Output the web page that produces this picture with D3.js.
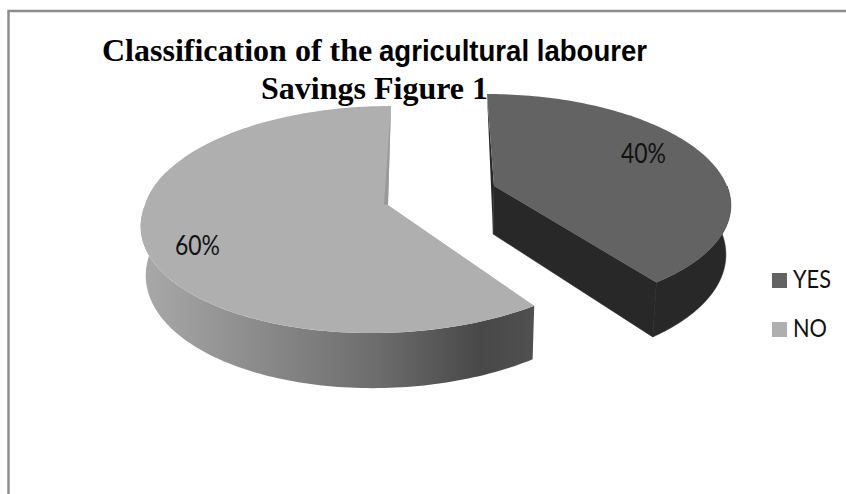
<!DOCTYPE html>
<html><head><meta charset="utf-8">
<script src="https://cdn.jsdelivr.net/npm/d3@7/dist/d3.min.js"></script>
<style>html,body{margin:0;padding:0;background:#fff}svg{display:block}</style>
</head><body><svg id="c" width="846" height="494"></svg>
<script>
const categories = ["YES", "NO"];
const seriesValues = [40, 60];
const valueLabels = ["40%", "60%"];
const titleSerif = "Classification of the";
const titleSans = "agricultural labourer";
const titleLine2 = "Savings Figure 1";

const W = 846, H = 494;
const svg = d3.select("#c");
const defs = svg.append("defs");

// frame
svg.append("path").attr("d", d3.line()([[8.5, H], [8.5, 11], [W, 11]]))
  .attr("fill", "none").attr("stroke", "#8c8c8c").attr("stroke-width", 2.4);

// gradient of the NO outer wall
const g = defs.append("linearGradient").attr("id", "wallNo").attr("gradientUnits", "userSpaceOnUse")
  .attr("x1", 145).attr("x2", 535).attr("y1", 0).attr("y2", 0);
[[0, "#a8a8a8"], [.3, "#8a8a8a"], [.6, "#6c6c6c"], [.86, "#484848"], [1, "#505050"]]
  .forEach(d => g.append("stop").attr("offset", d[0]).attr("stop-color", d[1]));

const depth = 48, vanishX = 440, shrink = 0.017;
const geom = {
  YES: {ax: 494, ay: 186, R: 233, Rk: 105.3, persp: 0.145, shearUp: 0.076, shearDown: 0.075, top: "#636363", wall: "#282828", from: Math.PI / 2, to: null},
  NO:  {ax: 388, ay: 205, R: 243, Rk: 111.7, persp: 0.128, shearUp: -0.03, shearDown: -0.13, top: "#afafaf", wall: "url(#wallNo)", from: null, to: Math.PI * 1.6}
};

function project(a, q, low) {
  const X = Math.sin(a), Y = Math.cos(a), s = 1 / (1 + q.persp * Y);
  const dx = q.R * X * s, dy = -q.Rk * Y * s;
  let x = q.ax + dx + (dy < 0 ? q.shearUp : q.shearDown) * dy, y = q.ay + dy;
  if (low) { x -= (x - vanishX) * shrink; y += depth * s; }
  return [x, y];
}
function apex(q, low) {
  return low ? [q.ax - (q.ax - vanishX) * shrink, q.ay + depth] : [q.ax, q.ay];
}
const samples = (a0, a1) => d3.range(0, 121).map(i => a0 + (a1 - a0) * i / 120);
const line = d3.line();

const pie = d3.pie().sort(null).value(d => d.v)(categories.map((c, i) => ({c, v: seriesValues[i], l: valueLabels[i]})));

[pie[1], pie[0]].forEach(p => {
  const name = p.data.c, q = geom[name], G = svg.append("g");
  const a0 = p.startAngle, a1 = p.endAngle;
  const wa0 = q.from === null ? a0 : q.from, wa1 = q.to === null ? a1 : q.to;
  const up = samples(wa0, wa1).map(a => project(a, q, false));
  const lo = samples(wa0, wa1).map(a => project(a, q, true)).reverse();
  if (name === "YES") {
    G.append("path").attr("fill", q.wall).attr("stroke", q.wall).attr("stroke-width", 0.6)
      .attr("d", line([project(a1, q, false), apex(q, false), apex(q, true), project(a1, q, true)]) + "Z");
    G.append("path").attr("fill", q.wall).attr("d", line([project(a0, q, false), apex(q, false), apex(q, true)]) + "Z");
  }
  const wall = G.append("path").attr("fill", q.wall).attr("d", line(up.concat(lo)) + "Z");
  if (name === "YES") wall.attr("stroke", q.wall).attr("stroke-width", 0.6);
  const rim = samples(a0, a1).map(a => project(a, q, false));
  G.append("path").attr("fill", q.top).attr("d", line(rim.concat([apex(q, false)])) + "Z");
  if (name === "NO") {
    const A = apex(q, false);
    G.append("path").attr("fill", "#999999").attr("d", line([project(a1, q, false), A, [A[0] - 4, A[1] - 1]]) + "Z");
  }
});

// value labels
const labelPos = {YES: [621, 163], NO: [175, 255]};
pie.forEach(p => {
  svg.append("text").attr("x", labelPos[p.data.c][0]).attr("y", labelPos[p.data.c][1])
    .attr("textLength", 45).attr("lengthAdjust", "spacingAndGlyphs")
    .attr("font-family", "Lato").attr("font-size", 26).attr("fill", "#111").text(p.data.l);
});

// legend
const legendY = d3.scalePoint().domain(categories).range([280.5, 329.5]);
const legendWidth = {YES: 38, NO: 34};
pie.forEach(p => {
  const y = legendY(p.data.c);
  svg.append("rect").attr("x", 772).attr("y", y - 7.5).attr("width", 15).attr("height", 15).attr("fill", geom[p.data.c].top);
  svg.append("text").attr("x", 793).attr("y", y + 7.5)
    .attr("textLength", legendWidth[p.data.c]).attr("lengthAdjust", "spacingAndGlyphs")
    .attr("font-family", "Lato").attr("font-size", 25.5).attr("fill", "#111").text(p.data.c);
});

// title
svg.append("text").attr("x", 102).attr("y", 61).attr("font-weight", "bold").attr("font-family", "'Liberation Serif'")
  .attr("font-size", 32).attr("fill", "#000").text(titleSerif);
svg.append("text").attr("x", 379).attr("y", 61).attr("font-weight", "bold").attr("font-family", "'Liberation Sans'")
  .attr("font-size", 29.5).attr("textLength", 268).attr("lengthAdjust", "spacingAndGlyphs").attr("fill", "#000").text(titleSans);
svg.append("text").attr("x", 261).attr("y", 99).attr("font-weight", "bold").attr("font-family", "'Liberation Serif'")
  .attr("font-size", 32).attr("fill", "#000").text(titleLine2);
</script></body></html>
